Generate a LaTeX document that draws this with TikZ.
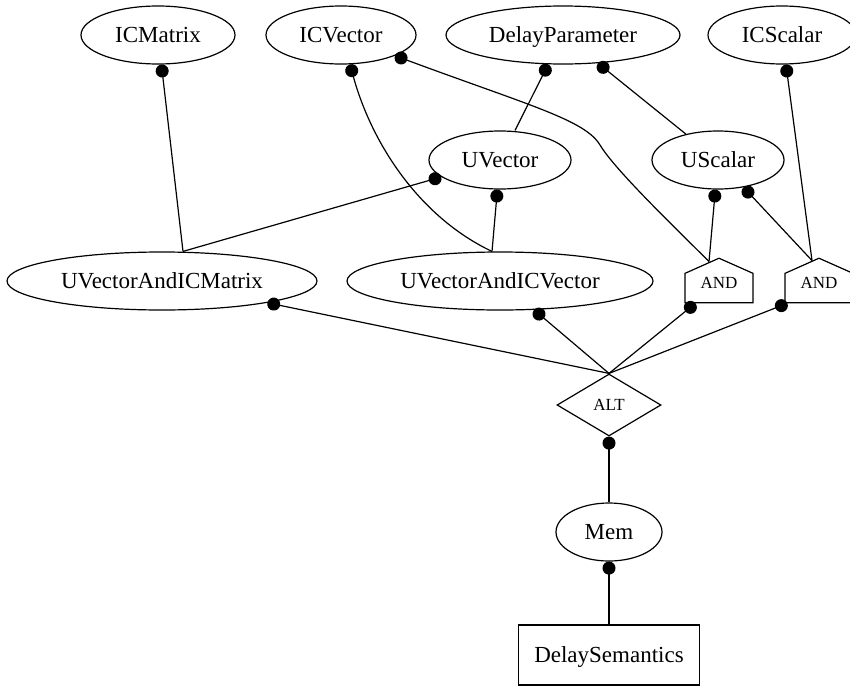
\documentclass[tikz,border=0pt]{standalone}
\usepackage{fontspec}
\setmainfont{Liberation Serif}
\usepackage{tikz}
\usetikzlibrary{shapes.geometric,shapes.symbols,arrows.meta}

\tikzset{
	entity/.style={ellipse, draw, line width=1.2pt, inner sep=0pt, minimum height=58pt, text height=16pt, text depth=2pt, font=\fontsize{23}{26}\selectfont},
	gate/.style={signal, signal to=north, signal from=nowhere, signal pointer angle=132, draw, line width=1.2pt, inner sep=0pt, minimum width=68pt, minimum height=37.5pt, text height=12pt, text depth=12pt, font=\fontsize{17}{20}\selectfont},
	choice/.style={diamond, draw, line width=1.2pt, inner sep=0pt, minimum width=104pt, minimum height=62pt, font=\fontsize{17}{20}\selectfont},
	result/.style={rectangle, draw, line width=1.2pt, inner sep=0pt, minimum width=181pt, minimum height=60pt, text height=16pt, text depth=2pt, font=\fontsize{23}{26}\selectfont},
	link/.style={{Circle[length=13pt]}-, line width=1.2pt}
}

\begin{document}
\begin{tikzpicture}[x=1pt,y=1pt]
			\useasboundingbox (0,0) rectangle (850,-688);
			
			\node[entity, minimum width=154pt] (icmatrix) at (158,-35) {ICMatrix};
			\node[entity, minimum width=150pt] (icvector) at (341,-35) {ICVector};
			\node[entity, minimum width=234pt] (delayparam) at (563,-35) {DelayParameter};
			\node[entity, minimum width=148pt] (icscalar) at (782,-35) {ICScalar};
			\node[entity, minimum width=142pt] (uvector) at (500,-160) {UVector};
			\node[entity, minimum width=132pt] (uscalar) at (718,-160) {UScalar};
			\node[entity, minimum width=310pt] (uvaicm) at (162,-281) {UVectorAndICMatrix};
			\node[entity, minimum width=306pt] (uvaicv) at (500,-281) {UVectorAndICVector};
			\node[gate] (and1) at (719,-288) {AND};
			\node[gate] (and2) at (819,-288) {AND};
			\node[choice] (alt) at (609,-405) {ALT};
			\node[entity, minimum width=106pt] (mem) at (609,-532) {Mem};
			\node[result] (dsem) at (609,-655) {DelaySemantics};
			
			\draw[link] (icmatrix) -- ([xshift=21pt]uvaicm.north);
			\draw[link] (icvector.-73) .. controls +(22,-80) and +(-72,34) .. ([xshift=-8pt]uvaicv.north);
			\draw[link] (icvector.-21) .. controls +(135,-50) and +(-15,25) .. (600,-145)
				.. controls +(15,-25) and +(-34,34) .. ([xshift=-10pt,yshift=-4pt]and1.north);
			\draw[link] (delayparam) -- ([xshift=15pt]uvector.north);
			\draw[link] (delayparam) -- (uscalar);
			\draw[link] (icscalar) -- ([xshift=-7pt,yshift=-3pt]and2.north);
			\draw[link] (uvector) -- ([xshift=21pt]uvaicm.north);
			\draw[link] (uvector) -- ([xshift=-8pt]uvaicv.north);
			\draw[link] (uscalar) -- ([xshift=-10pt,yshift=-4pt]and1.north);
			\draw[link] (uscalar) -- ([xshift=-7pt,yshift=-3pt]and2.north);
			\draw[link] (uvaicm) -- (alt.north);
			\draw[link] (uvaicv) -- (alt.north);
			\draw[link] ([xshift=11pt]and1.south west) -- (alt.north);
			\draw[link] ([xshift=3pt]and2.south west) -- (alt.north);
			\draw[link] (alt) -- (mem);
			\draw[link] (mem) -- (dsem);
			\end{tikzpicture}
\end{document}
